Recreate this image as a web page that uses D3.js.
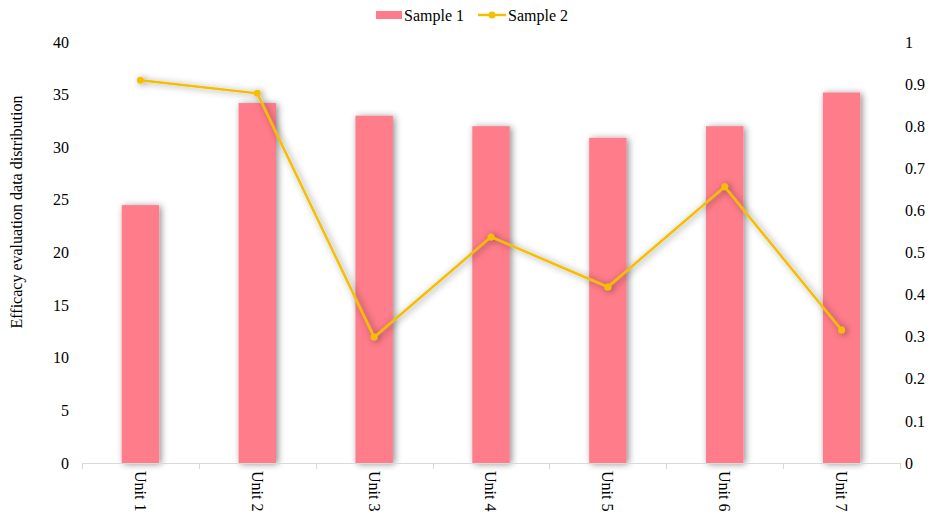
<!DOCTYPE html>
<html>
<head>
<meta charset="utf-8">
<script src="https://cdn.jsdelivr.net/npm/d3@7"></script>
<style>
  body { margin: 0; background: #fff; }
  text { font-family: "Liberation Serif", "Times New Roman", serif; fill: #000; }
</style>
</head>
<body>
<script>
var units = ["Unit 1", "Unit 2", "Unit 3", "Unit 4", "Unit 5", "Unit 6", "Unit 7"];
var sample1 = [24.5, 34.2, 33.0, 32.0, 30.9, 32.0, 35.2];
var sample2 = [0.909, 0.878, 0.299, 0.537, 0.418, 0.656, 0.316];
var leftTicks = [0, 5, 10, 15, 20, 25, 30, 35, 40];
var rightTicks = [0, 0.1, 0.2, 0.3, 0.4, 0.5, 0.6, 0.7, 0.8, 0.9, 1];

var width = 932, height = 515;
var margin = {top: 42, right: 32, bottom: 52, left: 82};

var svg = d3.select("body").append("svg")
  .attr("width", width)
  .attr("height", height);

// shadow for bars and line
var defs = svg.append("defs");
var f = defs.append("filter").attr("id", "shadow")
  .attr("x", "-30%").attr("y", "-10%").attr("width", "160%").attr("height", "130%");
f.append("feDropShadow").attr("dx", 2).attr("dy", 1).attr("stdDeviation", 3.5)
  .attr("flood-color", "#000").attr("flood-opacity", 0.45);

var x = d3.scaleBand()
  .domain(units)
  .range([margin.left, width - margin.right])
  .paddingInner(0.68)
  .paddingOuter(0.34);

var yL = d3.scaleLinear().domain([0, 40]).range([height - margin.bottom, margin.top]);
var yR = d3.scaleLinear().domain([0, 1]).range([height - margin.bottom, margin.top]);

// left axis labels
svg.append("g").selectAll("text")
  .data(leftTicks).enter().append("text")
  .attr("x", 69)
  .attr("y", function(d) { return yL(d); })
  .attr("dy", "0.35em")
  .attr("text-anchor", "end")
  .style("font-size", "16px")
  .text(function(d) { return d; });

// right axis labels
svg.append("g").selectAll("text")
  .data(rightTicks).enter().append("text")
  .attr("x", 905)
  .attr("y", function(d) { return yR(d); })
  .attr("dy", "0.35em")
  .attr("text-anchor", "start")
  .style("font-size", "16px")
  .text(function(d) { return d3.format("~g")(d); });

// y title
svg.append("text")
  .attr("transform", "translate(22,212) rotate(-90)")
  .attr("text-anchor", "middle")
  .style("font-size", "16px")
  .text("Efficacy evaluation data distribution");

// bars
svg.append("g").selectAll("rect")
  .data(sample1).enter().append("rect")
  .attr("x", function(d, i) { return x(units[i]); })
  .attr("y", function(d) { return yL(d); })
  .attr("width", x.bandwidth())
  .attr("height", function(d) { return yL(0) - yL(d); })
  .attr("fill", "#FF7B8A")
  .attr("filter", "url(#shadow)");

// x axis line + ticks at band boundaries
var y0 = yL(0);
var x0 = margin.left, x1 = width - margin.right;
svg.append("line")
  .attr("x1", x0).attr("x2", x1)
  .attr("y1", y0 + 0.5).attr("y2", y0 + 0.5)
  .attr("stroke", "#d9d9d9").attr("stroke-width", 1);
svg.append("g").selectAll("line")
  .data(d3.range(units.length + 1)).enter().append("line")
  .attr("x1", function(i) { return Math.round(x0 + i * (x1 - x0) / units.length) + 0.5; })
  .attr("x2", function(i) { return Math.round(x0 + i * (x1 - x0) / units.length) + 0.5; })
  .attr("y1", y0).attr("y2", y0 + 6)
  .attr("stroke", "#d9d9d9");

// x labels rotated
svg.append("g").selectAll("text")
  .data(units).enter().append("text")
  .attr("transform", function(d) {
    return "translate(" + (x(d) + x.bandwidth() / 2) + "," + (y0 + 8) + ") rotate(90)";
  })
  .attr("dy", "0.35em")
  .attr("text-anchor", "start")
  .style("font-size", "16px")
  .text(function(d) { return d; });

// line series
var line = d3.line()
  .x(function(d, i) { return x(units[i]) + x.bandwidth() / 2; })
  .y(function(d) { return yR(d); });

var lg = svg.append("g").attr("filter", "url(#shadow)");
lg.append("path")
  .datum(sample2)
  .attr("d", line)
  .attr("fill", "none")
  .attr("stroke", "#F5BE00")
  .attr("stroke-width", 2.5);
lg.selectAll("circle")
  .data(sample2).enter().append("circle")
  .attr("cx", function(d, i) { return x(units[i]) + x.bandwidth() / 2; })
  .attr("cy", function(d) { return yR(d); })
  .attr("r", 3.5)
  .attr("fill", "#F5BE00");

// legend
var leg = svg.append("g");
leg.append("rect").attr("x", 376).attr("y", 11).attr("width", 26).attr("height", 8).attr("fill", "#FF7B8A");
leg.append("text").attr("x", 404).attr("y", 15).attr("dy", "0.35em").style("font-size", "16px").text("Sample 1");
leg.append("line").attr("x1", 478).attr("x2", 506).attr("y1", 15).attr("y2", 15)
  .attr("stroke", "#F5BE00").attr("stroke-width", 2.5);
leg.append("circle").attr("cx", 492).attr("cy", 15).attr("r", 3.5).attr("fill", "#F5BE00");
leg.append("text").attr("x", 508).attr("y", 15).attr("dy", "0.35em").style("font-size", "16px").text("Sample 2");
</script>
</body>
</html>
